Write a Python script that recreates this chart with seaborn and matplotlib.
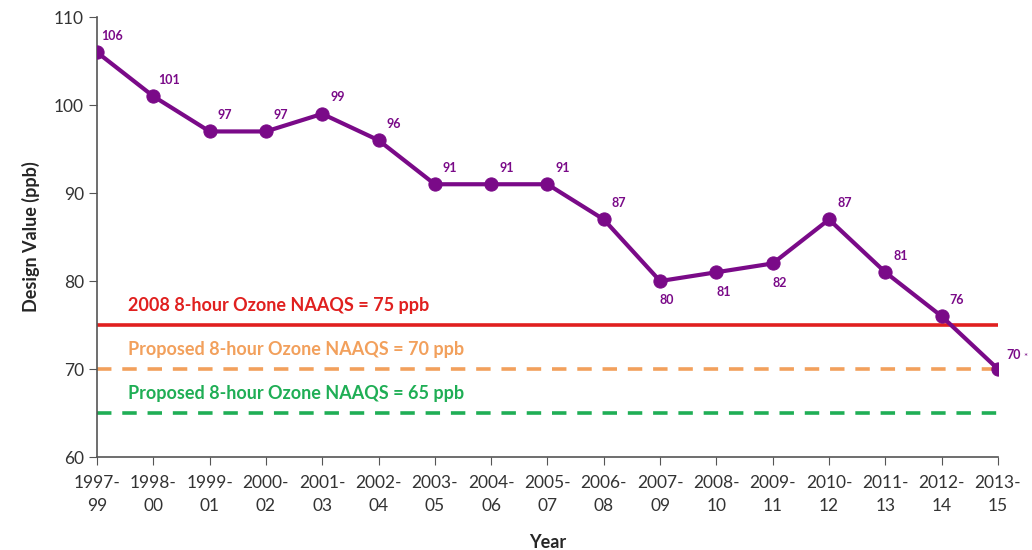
import seaborn as sns
import pandas as pd
import matplotlib.pyplot as plt

# design values by 3-year period
periods = ['1997-\n99', '1998-\n00', '1999-\n01', '2000-\n02', '2001-\n03', '2002-\n04',
           '2003-\n05', '2004-\n06', '2005-\n07', '2006-\n08', '2007-\n09', '2008-\n10',
           '2009-\n11', '2010-\n12', '2011-\n13', '2012-\n14', '2013-\n15']
design_values = [106, 101, 97, 97, 99, 96, 91, 91, 91, 87, 80, 81, 82, 87, 81, 76, 70]

standard_levels = [75, 70, 65]
standard_labels = ['2008 8-hour Ozone NAAQS = 75 ppb',
                   'Proposed 8-hour Ozone NAAQS = 70 ppb',
                   'Proposed 8-hour Ozone NAAQS = 65 ppb']
standard_colors = ['#E0201F', '#F2A05C', '#1FAE55']
standard_styles = ['-', (0, (4, 3)), (0, (4, 3))]

purple = '#7A0A88'

df = pd.DataFrame({'x': range(len(periods)), 'value': design_values})

sns.set_style('white')
plt.rcParams['font.family'] = ['Lato', 'DejaVu Sans']

fig = plt.figure(figsize=(10.32, 5.5), dpi=100)
ax = fig.add_axes([0.094, 0.169, 0.873, 0.8])

# standard lines drawn first so the data sits on top
for lvl, lab, col, ls in zip(standard_levels, standard_labels, standard_colors, standard_styles):
    ax.axhline(lvl, color=col, lw=2.6, ls=ls, zorder=1)
    ax.text(0.55, lvl + 2.2, lab, color=col, fontsize=13, fontweight='bold',
            va='center', ha='left')

sns.lineplot(data=df, x='x', y='value', color=purple, lw=3, marker='o',
             markersize=9.5, markeredgecolor=purple, ax=ax, zorder=3)

# point labels
below = {10, 11, 12}
for i, v in enumerate(design_values):
    if i == len(design_values) - 1:
        ax.annotate(str(v), (i, v), xytext=(6, 10), textcoords='offset points',
                    color=purple, fontsize=9, fontweight='bold', va='center', ha='left')
        ax.annotate('*', (i, v), xytext=(18, 8), textcoords='offset points',
                    color=purple, fontsize=7, va='center', ha='left')
    elif i in below:
        ax.annotate(str(v), (i, v), xytext=(5, -14), textcoords='offset points',
                    color=purple, fontsize=9, fontweight='bold', va='center', ha='center')
    else:
        ax.annotate(str(v), (i, v), xytext=(11, 12), textcoords='offset points',
                    color=purple, fontsize=9, fontweight='bold', va='center', ha='center')

ax.set_xlim(0, len(periods) - 1)
ax.set_ylim(60, 110)
ax.set_xticks(range(len(periods)))
ax.set_xticklabels(periods, fontsize=12.5, color='#333333', linespacing=1.55)
ax.set_yticks(range(60, 111, 10))
ax.tick_params(axis='y', labelsize=12.5, colors='#333333', length=6, direction='out', left=True)
ax.tick_params(axis='x', length=6, direction='out', bottom=True, pad=7)
ax.tick_params(axis='both', color='#555555')

for side in ['top', 'right']:
    ax.spines[side].set_visible(False)
for side in ['left', 'bottom']:
    ax.spines[side].set_color('#555555')
    ax.spines[side].set_linewidth(1.2)

ax.set_xlabel('Year', fontsize=13, fontweight='bold', labelpad=14)
ax.set_ylabel('Design Value (ppb)', fontsize=13, fontweight='bold', labelpad=10)

fig.savefig('out.png', dpi=100)
